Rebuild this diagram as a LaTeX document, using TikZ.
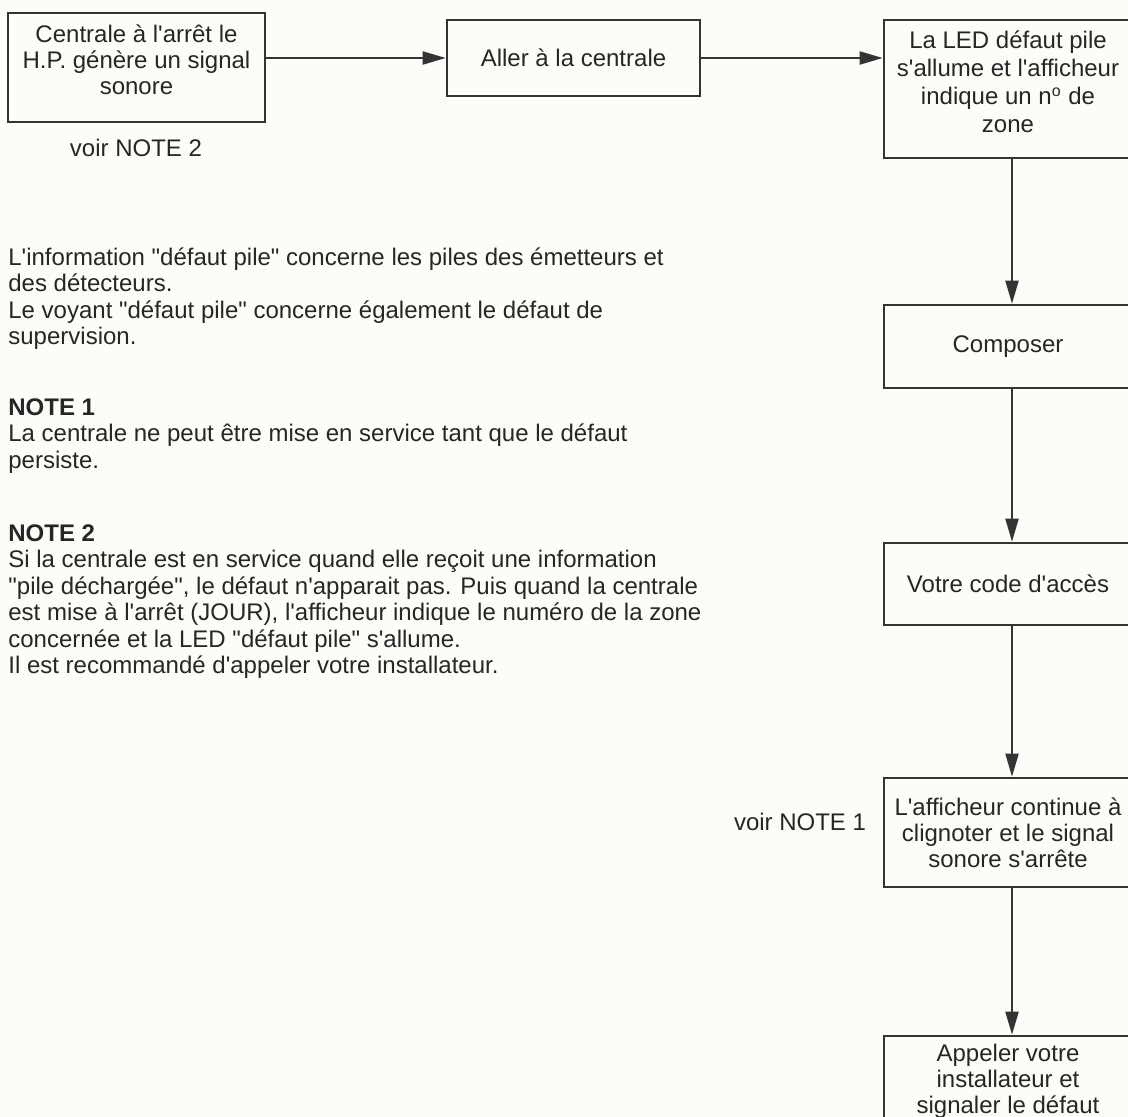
\documentclass[tikz,border=0pt]{standalone}
\usepackage{fontspec}
\newfontfamily\police{Liberation Sans}
\usetikzlibrary{arrows.meta}

\definecolor{fond}{RGB}{253,252,248}
\definecolor{trait}{RGB}{52,52,52}
\definecolor{encre}{RGB}{38,38,38}

\tikzset{
  boite/.style={draw=trait, line width=1.3pt, minimum width=124pt, align=center,
    inner sep=0pt, text=encre, font=\police\fontsize{12}{13}\selectfont},
  fleche/.style={draw=trait, line width=1pt, -{Triangle[length=11.5pt,width=6.5pt]}},
  texte/.style={anchor=north west, align=left, inner sep=0pt, text=encre,
    font=\police\fontsize{12}{13.25}\selectfont},
  renvoi/.style={inner sep=0pt, text=encre, font=\police\fontsize{12}{12.5}\selectfont},
}

\begin{document}
\begin{tikzpicture}[x=0.5pt,y=-0.5pt]

\useasboundingbox (0,0) rectangle (1128,1117);
\fill[fond] (0,0) rectangle (1128,1117);
\clip (0,0) rectangle (1128,1117);

% ligne du haut
\node[boite, minimum width=128.5pt, minimum height=54.5pt, text depth=8pt] (centrale) at (136.5,67.5)
  {Centrale à l'arrêt le\\H.P. génère un signal\\sonore};
\node[renvoi] (voir2) at (136,148) {voir NOTE 2};
\node[boite, minimum width=126.5pt, minimum height=38pt] (aller) at (573.5,58)
  {Aller à la centrale};
\node[boite, minimum height=69pt, text depth=7pt,
      font=\police\fontsize{12}{14}\selectfont] (led) at (1008,89)
  {La LED défaut pile\\s'allume et l'afficheur\\indique un n\textsuperscript{o} de\\zone};

% colonne de droite
\node[boite, minimum height=41.5pt] (composer) at (1008,346.5) {Composer};
\node[boite, minimum height=41pt] (code) at (1008,584) {Votre code d'accès};
\node[boite, minimum height=54.5pt] (afficheur) at (1008,832.5)
  {L'afficheur continue à\\clignoter et le signal\\sonore s'arrête};
\node[renvoi] (voir1) at (800,822) {voir NOTE 1};
\node[boite, minimum height=49pt, text depth=6pt] (appeler) at (1008,1085)
  {Appeler votre\\installateur et\\signaler le défaut};

% fleches
\draw[fleche] (centrale.east |- aller.west) -- (aller.west);
\draw[fleche] (aller.east) -- (aller.east -| led.west);
\foreach \a/\b in {led/composer, composer/code, code/afficheur, afficheur/appeler}
{
    \draw[fleche] ([xshift=2pt]\a.south) -- ([xshift=2pt]\b.north);
}

% notes
\node[texte] (info) at (8,247)
  {L'information "défaut pile" concerne les piles des émetteurs et\\
   des détecteurs.\\
   Le voyant "défaut pile" concerne également le défaut de\\
   supervision.};
\node[texte] (note1) at (8,398)
  {\bfseries NOTE 1\\
   La centrale ne peut être mise en service tant que le défaut\\
   persiste.};
\node[texte] (note2) at (8,524)
  {\bfseries NOTE 2\\
   Si la centrale est en service quand elle reçoit une information\\
   "pile déchargée", le défaut n'apparait pas. Puis quand la centrale\\
   est mise à l'arrêt (JOUR), l'afficheur indique le numéro de la zone\\
   concernée et la LED "défaut pile" s'allume.\\
   Il est recommandé d'appeler votre installateur.};

\end{tikzpicture}
\end{document}
